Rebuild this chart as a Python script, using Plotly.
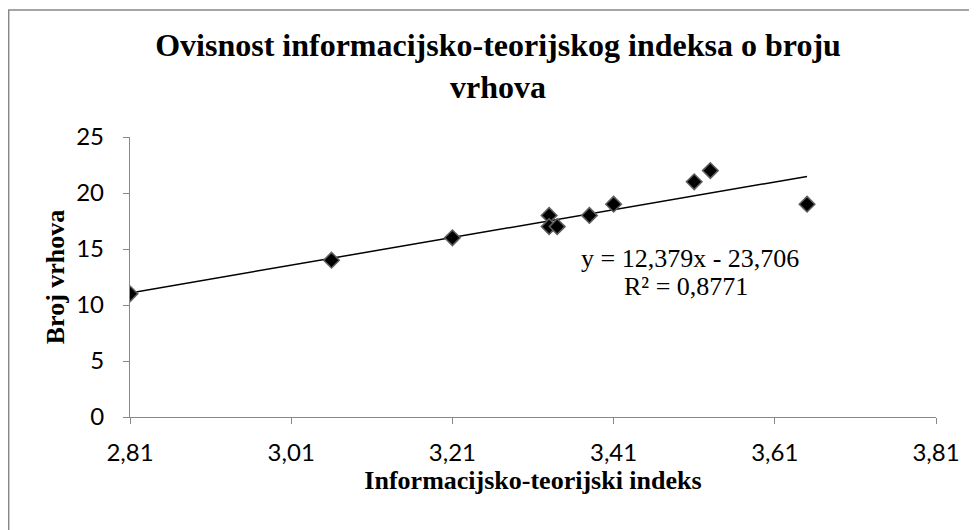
import plotly.graph_objects as go

# Data
info_index = [2.81, 3.06, 3.21, 3.33, 3.33, 3.34, 3.38, 3.41, 3.51, 3.53, 3.65]
num_vertices = [11, 14, 16, 18, 17, 17, 18, 19, 21, 22, 19]

# Trendline (as reported on the chart)
slope = 12.379
intercept = -23.706
r_squared = 0.8771

x_ticks = [2.81, 3.01, 3.21, 3.41, 3.61, 3.81]
y_ticks = [0, 5, 10, 15, 20, 25]

title_text = "Ovisnost informacijsko-teorijskog indeksa o broju<br>vrhova"
x_title = "Informacijsko-teorijski indeks"
y_title = "Broj vrhova"

def fmt(v, d):
    return f"{v:.{d}f}".replace(".", ",")

eq_text = f"y = {fmt(slope, 3)}x - {fmt(abs(intercept), 3)}"
r2_text = f"R² = {fmt(r_squared, 4)}"

serif = "Liberation Serif, Times New Roman, serif"
sans = "Lato, Carlito, Calibri, sans-serif"

trend_x = [min(info_index), max(info_index)]
trend_y = [slope * v + intercept for v in trend_x]

# page offset of the figure (body margin) is 8px; figure sized to fill the window
W, H = 969, 522
L, R, T, B = 122, 41, 129, 113
PW, PH = W - L - R, H - T - B


def px_x(p):  # figure pixel -> paper x
    return (p - L) / PW


def px_y(p):  # figure pixel -> paper y
    return (T + PH - p) / PH


fig = go.Figure()
fig.add_trace(go.Scatter(
    x=trend_x, y=trend_y, mode="lines",
    line=dict(color="black", width=1.5),
    showlegend=False, hoverinfo="skip",
))
fig.add_trace(go.Scatter(
    x=info_index, y=num_vertices, mode="markers",
    marker=dict(symbol="diamond", size=12, color="black",
                line=dict(color="#5f5f5f", width=1.5)),
    showlegend=False,
))

axis_common = dict(
    showgrid=False, zeroline=False, showline=True,
    linecolor="#888888", linewidth=1.3,
    ticks="outside", ticklen=6, tickcolor="#888888", tickwidth=1.3,
    tickfont=dict(family=sans, size=24, color="black"),
)

fig.update_layout(
    width=W, height=H,
    margin=dict(l=L, r=R, t=T, b=B, autoexpand=False),
    paper_bgcolor="white", plot_bgcolor="white",
    separators=",.",
    title=dict(
        text=title_text,
        font=dict(family=serif, size=32, color="black", weight="bold"),
        x=490 / W, xref="container", xanchor="center",
        y=1 - 48 / H, yref="container", yanchor="top",
    ),
    xaxis=dict(
        axis_common,
        range=[2.81, 3.81], tickvals=x_ticks, tickformat=".2f",
        ticklabelstandoff=8,
        title=dict(text=x_title, standoff=3,
                   font=dict(family=serif, size=26, color="black", weight="bold")),
    ),
    yaxis=dict(
        axis_common,
        range=[0, 25], tickvals=y_ticks,
        ticklabelstandoff=14,
        title=dict(text=y_title, standoff=4,
                   font=dict(family=serif, size=26, color="black", weight="bold")),
    ),
    shapes=[dict(
        type="rect", xref="paper", yref="paper",
        x0=px_x(0.7), x1=px_x(W + 20),
        y0=px_y(H + 30), y1=px_y(2),
        line=dict(color="#888888", width=1.5), fillcolor="rgba(0,0,0,0)",
        layer="below",
    )],
    annotations=[
        dict(text=eq_text, xref="paper", yref="paper",
             x=px_x(682), y=px_y(250),
             xanchor="center", yanchor="middle", showarrow=False,
             font=dict(family=serif, size=26, color="black")),
        dict(text=r2_text, xref="paper", yref="paper",
             x=px_x(678), y=px_y(278),
             xanchor="center", yanchor="middle", showarrow=False,
             font=dict(family=serif, size=26, color="black")),
    ],
)

fig.write_html("out.html")
